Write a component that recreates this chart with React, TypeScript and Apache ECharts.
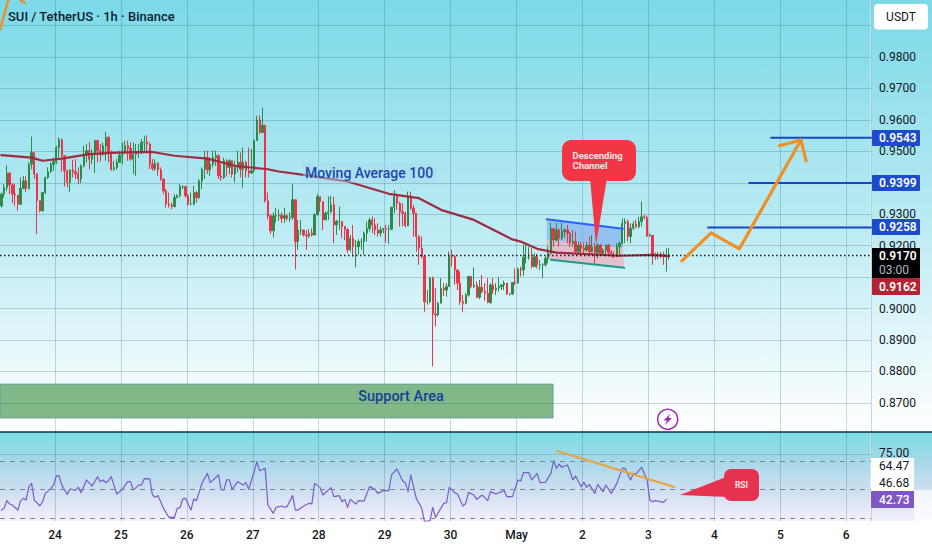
import React, { useEffect, useRef } from "react";
import * as echarts from "echarts";

// Prices in units of 0.0001, one per hourly candle
const firstOpen = 9327;
const closeUnits = [
  9364,9385,9431,9393,9364,9361,9332,9382,9406,9382,9459,9496,9428,9343,9311,9369,9417,9435,9459,9467,
  9512,9537,9486,9438,9401,9441,9435,9428,9412,9454,9488,9502,9475,9491,9534,9502,9491,9518,9544,9496,
  9443,9449,9465,9486,9496,9518,9509,9475,9491,9496,9499,9528,9530,9523,9459,9445,9462,9441,9412,9374,
  9332,9329,9325,9353,9359,9388,9388,9359,9332,9332,9369,9353,9406,9443,9480,9441,9459,9480,9486,9422,
  9417,9470,9449,9470,9428,9449,9465,9443,9465,9438,9431,9438,9534,9600,9560,9583,9343,9295,9247,9295,
  9295,9297,9287,9295,9287,9290,9346,9213,9250,9250,9234,9231,9240,9234,9298,9356,9340,9282,9303,9308,
  9330,9266,9277,9277,9261,9252,9187,9224,9197,9197,9213,9213,9240,9255,9282,9266,9250,9240,9250,9255,
  9252,9252,9322,9356,9335,9308,9303,9263,9356,9319,9303,9229,9192,9165,9022,9022,9097,8983,8980,9017,
  9065,9059,9070,9167,9165,9123,9081,9022,9017,9043,9102,9070,9075,9036,9068,9054,9049,9019,9075,9059,
  9065,9070,9075,9081,9047,9047,9083,9081,9125,9123,9163,9163,9163,9134,9165,9139,9139,9139,9160,9176,
  9255,9218,9250,9224,9245,9250,9239,9208,9213,9181,9202,9192,9186,9202,9181,9197,9178,9202,9176,9186,
  9202,9178,9171,9167,9197,9208,9271,9277,9229,9255,9269,9261,9277,9292,9290,9231,9233,9167,9171,9167,
  9171,9165,9165,9170,
];
const highUnits = [
  9369,9396,9456,9433,9399,9396,9359,9417,9422,9420,9465,9547,9496,9431,9343,9369,9420,9449,9465,9480,
  9518,9544,9541,9488,9441,9443,9473,9475,9449,9459,9518,9523,9530,9507,9537,9537,9523,9528,9562,9549,
  9502,9470,9475,9502,9528,9534,9534,9528,9528,9523,9523,9539,9549,9551,9528,9475,9475,9465,9449,9412,
  9380,9369,9337,9364,9364,9396,9393,9390,9364,9369,9390,9374,9412,9449,9502,9502,9480,9502,9502,9491,
  9459,9480,9475,9475,9470,9470,9502,9496,9512,9470,9512,9507,9539,9613,9615,9639,9583,9369,9300,9306,
  9321,9316,9306,9321,9300,9306,9396,9348,9282,9282,9250,9250,9252,9255,9303,9365,9356,9340,9308,9356,
  9358,9356,9282,9324,9277,9255,9255,9234,9266,9218,9220,9224,9245,9277,9289,9293,9287,9271,9261,9255,
  9266,9266,9324,9377,9365,9340,9335,9308,9372,9372,9330,9303,9234,9229,9167,9059,9100,9102,9065,9022,
  9097,9081,9081,9181,9187,9171,9123,9118,9043,9049,9104,9104,9131,9086,9091,9107,9081,9097,9081,9097,
  9081,9100,9078,9089,9081,9049,9083,9128,9131,9134,9203,9203,9197,9192,9176,9174,9155,9144,9167,9197,
  9273,9255,9273,9255,9273,9255,9266,9245,9250,9245,9213,9213,9210,9213,9229,9234,9208,9208,9205,9192,
  9202,9205,9186,9181,9208,9213,9287,9287,9282,9271,9277,9282,9292,9340,9298,9295,9239,9234,9178,9181,
  9181,9181,9192,9192,
];
const lowUnits = [
  9321,9353,9374,9364,9335,9327,9311,9329,9380,9371,9378,9443,9412,9237,9306,9308,9364,9412,9431,9438,
  9459,9480,9435,9388,9385,9371,9417,9412,9396,9399,9449,9465,9443,9459,9431,9465,9467,9486,9470,9465,
  9438,9438,9441,9465,9459,9491,9470,9470,9428,9422,9480,9491,9496,9496,9443,9438,9438,9422,9406,9364,
  9321,9321,9316,9321,9350,9353,9380,9353,9327,9329,9329,9337,9348,9380,9412,9428,9422,9449,9454,9412,
  9406,9412,9420,9428,9417,9401,9433,9417,9385,9417,9417,9428,9433,9534,9555,9560,9337,9284,9237,9226,
  9274,9279,9272,9272,9279,9276,9282,9125,9187,9234,9229,9187,9224,9229,9261,9308,9308,9250,9282,9282,
  9303,9208,9234,9250,9224,9218,9176,9181,9165,9131,9171,9187,9171,9213,9245,9240,9234,9229,9229,9240,
  9210,9206,9250,9303,9314,9261,9261,9259,9263,9314,9229,9181,9139,9160,8990,9012,9017,8816,8943,8975,
  9017,9040,9038,9070,9134,9075,9059,9012,8990,9014,9038,9065,9065,9033,9030,9049,9025,9017,9015,9047,
  9043,9054,9059,9059,9043,9042,9043,9075,9086,9102,9104,9144,9155,9128,9134,9128,9123,9097,9134,9144,
  9171,9197,9213,9197,9218,9227,9208,9197,9197,9176,9176,9171,9171,9181,9171,9178,9144,9160,9167,9171,
  9171,9171,9163,9160,9163,9171,9205,9208,9213,9208,9250,9255,9255,9261,9284,9227,9229,9139,9155,9157,
  9160,9139,9118,9155,
];
// Moving average 100, as [bar, price]
const maPoints = [
  [0,.9488],[11,.948],[15,.947],[22,.9477],[32,.9491],[42,.9496],[55,.9498],[63,.9486],[75,.9477],[85,.9454],
  [97,.9443],[101,.9436],[110,.9425],[126,.9404],[141,.9365],[152,.9351],[160,.9314],[172,.9282],[186,.922],
  [189,.9213],[195,.919],[202,.9178],[225,.9168],[237,.9171],[243,.9167],
];
// RSI, as [bar, value]
const rsiPoints = [
  [0,35.6],[1,36.8],[2,42.2],[3,39.8],[4,39.1],[6,35.6],[7,42.2],[8,43.8],[9,42.6],[10,52],[11,54.3],[12,42.6],[14,38.6],[15,41.4],[16,47.3],
  [18,50.8],[19,53.1],[20,59.5],[21,59.7],[22,53.1],[24,46.6],[25,50.3],[27,49.6],[28,51.5],[29,47.8],[31,56.7],[33,52.4],[35,59],[36,55.5],[37,56.7],
  [38,54.8],[39,56.2],[40,59],[42,46.8],[44,50.1],[46,55.5],[47,55.5],[48,49.6],[50,53.1],[51,53.1],[52,57.6],[54,57.4],[55,46.1],[56,44.5],[57,45.7],
  [59,36.8],[61,30.4],[63,30.4],[64,36.8],[65,37.2],[66,43.3],[67,43.8],[69,35.6],[70,43.3],[71,42.2],[73,54.3],[75,61.3],[76,54.8],[79,60.2],[80,50.1],
  [81,49.6],[82,56.7],[83,56.7],[84,50.1],[86,55.5],[88,53.1],[89,55],[90,50.1],[92,62.5],[93,69.5],[94,63.2],[96,64.8],[97,39.1],[99,33.3],[100,37.5],
  [102,38.4],[103,37.5],[104,38],[106,45.7],[107,35.6],[108,35.6],[110,38.4],[112,40.3],[113,39.8],[114,54.3],[116,51.5],[117,46.1],[120,51.3],[121,45],
  [123,45.7],[124,41.4],[125,43.1],[126,37.5],[127,43.1],[129,39.8],[130,42.2],[132,41.9],[134,52],[136,50.1],[137,47.3],[139,49.2],[141,49.2],[142,60.2],
  [144,64.4],[146,56.2],[147,54.8],[148,48.5],[149,60.2],[150,52],[151,43.8],[153,36.8],[154,27.4],[156,28.1],[157,37.5],[158,30.4],[161,40.3],[162,40.8],
  [163,51.5],[165,47.8],[166,46.8],[168,38.4],[169,40.3],[170,48],[172,46.1],[173,43.1],[175,46.1],[177,42.2],[178,48.5],[180,46.8],[183,49.2],[184,45],
  [186,45],[187,50.8],[188,56.7],[189,56],[190,61.8],[192,61.8],[193,56.7],[195,61.3],[196,54.8],[198,55],[200,61.3],[201,70.2],[202,64.8],[203,67.7],
  [204,65.6],[206,67.2],[207,62.5],[208,56.7],[209,59.5],[211,52],[212,55],[213,51.5],[214,53.6],[216,47.3],[217,53.6],[219,48.5],[220,53.1],[222,47.3],
  [224,54.3],[226,64.8],[227,64.8],[229,56.7],[230,61.3],[231,60.9],[233,65.6],[235,56.7],[236,42.6],[237,41.4],[238,42.2],[241,41],[242,43.1],
];
const dayLabels = ["24","25","26","27","28","29","30","May","2","3","4","5","6"];
const priceTicks = [0.87,0.88,0.89,0.9,0.91,0.92,0.93,0.94,0.95,0.96,0.97,0.98,0.99];
const priceLabels = [0.87,0.88,0.89,0.9,0.92,0.93,0.95,0.96,0.97,0.98];
const rsiLevels = [70,50,30];
const lastPrice = 0.917;
// Drawn annotations, as [bar, price] or [bar, rsi]
const topLeftArrow = [[-0.5,.9888],[2.5,.9981]];
const topLeftArrow2 = [[7,.9981],[8.5,.9972]];
const forecastPath = [[247.7,.9152],[258.3,.9241],[268.6,.919],[291,.9536]];
const arrowHead = [[283.2,.9518],[291,.9536],[292.9,.947]];
const target1 = [[257.2,.9258],[316.5,.9258]];
const target2 = [[272.2,.9399],[316.5,.9399]];
const target3 = [[280.2,.9543],[316.5,.9543]];
const channelTop = [[198.5,.9284],[226.2,.9254]];
const channelBottom = [[200,.9155],[226.7,.913]];
const channelUpper = [[198.5,.9284],[226.2,.9254],[226.2,.9192],[198.5,.9218]];
const channelLower = [[198.5,.9218],[226.2,.9192],[226.7,.913],[198.5,.9157]];
const supportZone = [[-0.5,.876],[200.8,.876],[200.8,.8652],[-0.5,.8652]];
const rsiTrend = [[202.3,77],[244.9,51.8]];

const W = 871;
const SLOTS = 317;
const FIRST_DAY = 20;
const dayIdx: Record<number, string> = {};
dayLabels.forEach((d, k) => { dayIdx[FIRST_DAY + 24 * k] = d; });
const categories = Array.from({ length: SLOTS }, (_, i) => String(i));
const GRID = "rgba(35,90,105,0.24)";
const FONT = "Roboto";

function trend(pts: number[][], color: string, width: number, xAxisIndex = 1, yAxisIndex = 0, z = 6) {
  return { type: "line", data: pts, xAxisIndex, yAxisIndex, z, showSymbol: false, silent: true,
    lineStyle: { color, width, cap: "round", join: "round" }, itemStyle: { color } };
}
function poly(pts: number[][], fill: string, stroke?: string) {
  return { type: "custom", xAxisIndex: 1, yAxisIndex: 0, z: 1, silent: true, data: [pts[0]],
    renderItem: (_: any, api: any) => ({ type: "polygon",
      shape: { points: pts.map((p) => api.coord(p)) },
      style: { fill, stroke: stroke || "none", lineWidth: stroke ? 1 : 0 } }) };
}
function guides(field: string, vals: number[], color: string, width: number, type: any, xAxisIndex: number, yAxisIndex: number, z = 1) {
  return { type: "line", data: [], xAxisIndex, yAxisIndex, z, silent: true,
    markLine: { silent: true, symbol: "none", animation: false, precision: 6, label: { show: false },
      lineStyle: { color, width, type }, data: vals.map((v) => ({ [field]: v })) } };
}
function tag(y: number, h: number, fill: string, text: string, x = 872, w = 48, tc = "#fff", weight = 600) {
  return [
    { type: "rect", z: 100, shape: { x, y, width: w, height: h, r: 1 }, style: { fill } },
    { type: "text", z: 101, style: { text, x: x + 7, y: y + h / 2, fill: tc, font: `${weight} 12px ${FONT}`, textVerticalAlign: "middle" } },
  ];
}
function label(x: number, y: number, text: string, fill: string, font: string, align = "left") {
  return { type: "text", z: 101, style: { text, x, y, fill, font, textAlign: align, textVerticalAlign: "middle" } };
}

export default function App() {
  const ref = useRef<HTMLDivElement>(null);
  useEffect(() => {
    document.body.style.margin = "0";
    const chart = echarts.init(ref.current!, undefined, { renderer: "svg" });
    const ohlc = closeUnits.map((c, i) => [
      (i === 0 ? firstOpen : closeUnits[i - 1]) / 10000, c / 10000, lowUnits[i] / 10000, highUnits[i] / 10000,
    ]);
    const grad = (stops: [number, string][]) => new echarts.graphic.LinearGradient(0, 0, 0, 1, stops.map(([offset, color]) => ({ offset, color })));
    const splitFn = (i: number) => dayIdx[i] !== undefined;
    chart.setOption({
      animation: false,
      backgroundColor: "#fff",
      grid: [
        { left: 0, top: 0, width: W, height: 432 },
        { left: 0, top: 432, width: W, height: 89 },
      ],
      xAxis: [
        { type: "category", gridIndex: 0, data: categories, axisLine: { show: false }, axisTick: { show: false }, axisLabel: { show: false },
          splitLine: { show: true, interval: splitFn, lineStyle: { color: GRID, width: 1 } } },
        { type: "value", gridIndex: 0, min: -0.5, max: 316.5, show: false },
        { type: "category", gridIndex: 1, data: categories, axisLine: { show: false }, axisTick: { show: false },
          axisLabel: { show: true, interval: (i: number) => dayIdx[i] !== undefined, hideOverlap: false,
            formatter: (v: string) => dayIdx[Number(v)] || "", color: "#131722", fontFamily: FONT, fontSize: 12, fontWeight: 500, margin: 8, padding: [0, 2.75, 0, 0] },
          splitLine: { show: true, interval: splitFn, lineStyle: { color: GRID, width: 1 } } },
        { type: "value", gridIndex: 1, min: -0.5, max: 316.5, show: false },
      ],
      yAxis: [
        { type: "value", gridIndex: 0, position: "right", min: 0.86076, max: 0.99812, splitLine: { show: false }, axisLine: { show: false }, axisTick: { show: false },
          axisLabel: { show: true, customValues: priceLabels, inside: false, margin: 8, color: "#131722", fontFamily: FONT, fontSize: 12, formatter: (v: number) => v.toFixed(4) } },
        { type: "value", gridIndex: 1, position: "right", min: 27.9, max: 90.35, show: false, splitLine: { show: false } },
      ],
      graphic: [
        { type: "rect", z: -10, shape: { x: 0, y: 0, width: 932, height: 432 }, style: { fill: grad([[0, "#7bd9e8"], [0.55, "#bfecf4"], [0.85, "#ecf9fb"], [1, "#ffffff"]]) } },
        { type: "rect", z: -10, shape: { x: 0, y: 432, width: 932, height: 89 }, style: { fill: grad([[0, "#79dfe6"], [0.3, "#a3d8e8"], [0.7, "#d2e1f2"], [1, "#f3f0fb"]]) } },
        { type: "rect", z: -9, shape: { x: 914, y: 490, width: 18, height: 31 }, style: { fill: "#ffffff", opacity: 0.7 } },
        { type: "rect", z: 20, shape: { x: 0, y: 431.2, width: 932, height: 1.5 }, style: { fill: "#1b2b3d" } },
        { type: "rect", z: 0, shape: { x: 870.5, y: 0, width: 1.2, height: 521 }, style: { fill: "rgba(255,255,255,0.7)" } },
        // title and scale header
        label(8, 16, "SUI / TetherUS · 1h · Binance", "#0f2130", `500 13px ${FONT}`),
        { type: "rect", z: 100, shape: { x: 874, y: 4, width: 54, height: 25.5, r: 4 }, style: { fill: "#fff" } },
        label(901, 17, "USDT", "#131722", `400 12px ${FONT}`, "center"),
        // price tags
        ...tag(130, 16, "#1c4ccb", "0.9543"),
        ...tag(175, 16, "#1c4ccb", "0.9399"),
        ...tag(219, 16, "#1c4ccb", "0.9258"),
        { type: "rect", z: 100, shape: { x: 872, y: 248, width: 48, height: 30 }, style: { fill: "#000" } },
        label(879, 256, "0.9170", "#fff", `600 12px ${FONT}`),
        label(879, 270, "03:00", "#b5b8c0", `400 12px ${FONT}`),
        ...tag(278, 17, "#b32333", "0.9162"),
        // RSI tags
        label(879, 453, "75.00", "#131722", `400 12px ${FONT}`),
        { type: "rect", z: 100, shape: { x: 871, y: 458, width: 43, height: 33 }, style: { fill: "#fff" } },
        label(879, 466, "64.47", "#131722", `400 12px ${FONT}`),
        label(879, 483, "46.68", "#131722", `400 12px ${FONT}`),
        { type: "rect", z: 100, shape: { x: 871, y: 491, width: 43, height: 17 }, style: { fill: "#7e57c2" } },
        label(879, 499.5, "42.73", "#fff", `500 12px ${FONT}`),
        // text notes
        { type: "rect", z: 7, shape: { x: 303, y: 163, width: 134, height: 20, r: 2 }, style: { fill: "rgba(170,215,240,0.45)" } },
        label(305, 173, "Moving Average 100", "#1a4aa8", `500 14px ${FONT}`),
        label(401, 396, "Support Area", "#173f9e", `500 14.5px ${FONT}`, "center"),
        // Descending Channel callout
        { type: "polygon", z: 90, shape: { points: [[590, 178], [607, 178], [596, 245]] }, style: { fill: "#f23645" } },
        { type: "rect", z: 90, shape: { x: 562, y: 140, width: 74, height: 41, r: 9 }, style: { fill: "#f23645" } },
        label(572.5, 155, "Descending", "#ffe6e6", `700 9.5px ${FONT}`),
        label(572.5, 165, "Channel", "#ffe6e6", `700 9.5px ${FONT}`),
        // RSI callout
        { type: "polygon", z: 90, shape: { points: [[680, 495], [726, 477], [728, 497]] }, style: { fill: "#e5334f" } },
        { type: "rect", z: 90, shape: { x: 724, y: 469, width: 35, height: 32, r: 7 }, style: { fill: "#e5334f" } },
        label(741.5, 485, "RSI", "#ffe6e6", `700 8.5px ${FONT}`, "center"),
        // lightning badge
        { type: "circle", z: 90, shape: { cx: 667.7, cy: 419.3, r: 10 }, style: { fill: "rgba(255,255,255,0.4)", stroke: "#9c27b0", lineWidth: 1.5 } },
        { type: "polygon", z: 91, shape: { points: [[670.5, 413.5], [663.5, 420.5], [667, 420.5], [665, 425], [672, 418], [668.5, 418]] }, style: { fill: "#9c27b0" } },
      ],
      series: [
        guides("yAxis", priceTicks, GRID, 1, "solid", 1, 0),
        guides("yAxis", [75], GRID, 1, "solid", 3, 1),
        guides("yAxis", rsiLevels, "#7d8590", 1.2, [5, 5], 3, 1, 2),
        poly(supportZone, "#82b888", "rgba(90,140,165,0.7)"),
        poly(channelUpper, "rgba(125,170,240,0.65)"),
        poly(channelLower, "rgba(235,175,190,0.75)"),
        { type: "candlestick", data: ohlc, xAxisIndex: 0, yAxisIndex: 0, z: 3, silent: true, barWidth: 1.8,
          itemStyle: { color: "#2e8b47", color0: "#ee3347", borderColor: "#2e8b47", borderColor0: "#ee3347", borderWidth: 1 } },
        trend(maPoints, "#a02c40", 2.2, 1, 0, 4),
        guides("yAxis", [lastPrice], "#1a1a1a", 1.3, [1.5, 2.5], 1, 0, 5),
        trend(channelTop, "#2962ff", 2),
        trend(channelBottom, "#1b9b84", 2),
        trend(target1, "#1747c4", 2),
        trend(target2, "#1747c4", 2),
        trend(target3, "#1747c4", 2),
        trend(forecastPath, "#ef8f25", 3.2),
        trend(arrowHead, "#ef8f25", 3.2),
        trend(topLeftArrow, "#ef8f25", 2.4),
        trend(topLeftArrow2, "#ef8f25", 2.4),
        trend(rsiPoints, "#7a5cc8", 1.2, 3, 1, 4),
        trend(rsiTrend, "#e8a33d", 2.2, 3, 1, 6),
      ],
    });
    return () => chart.dispose();
  }, []);
  return <div ref={ref} style={{ position: "absolute", left: 0, top: 0, width: 932, height: 550 }} />;
}
